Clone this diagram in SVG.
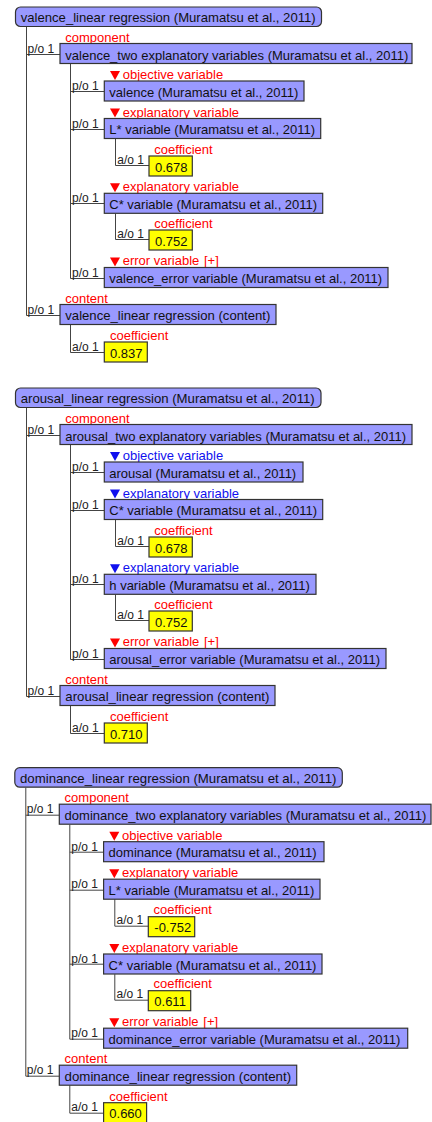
<svg xmlns="http://www.w3.org/2000/svg" width="432" height="1122" viewBox="0 0 432 1122">
<style>
.bg{fill:#ffffff}
.box{fill:#9999ff;stroke:#333333;stroke-width:1.2}
.val{fill:#ffff00;stroke:#333333;stroke-width:1.2}
.t{font-family:"Liberation Sans",Arial,sans-serif;font-size:13px;fill:#111111}
.lr{font-family:"Liberation Sans",Arial,sans-serif;font-size:13px;fill:#ff0000}
.lb{font-family:"Liberation Sans",Arial,sans-serif;font-size:13px;fill:#1010ee}
.card{font-family:"Liberation Sans",Arial,sans-serif;font-size:12px;fill:#222222}
.ln{stroke:#444444;stroke-width:1;fill:none}
.tr{fill:#ff0000}
.tb{fill:#1010ee}
</style>
<rect class="bg" x="0" y="0" width="432" height="1122"/>
<g id="connectors">
  <g id="conn-valence">
    <path class="ln" d="M26.5,27 V315.5 M26.5,54.5 H60 M26.5,315.5 H60 M70.5,64 V278.5 M70.5,91.5 H104.3 M70.5,129.5 H104.3 M70.5,203.5 H104.3 M70.5,278.5 H104.3 M115.5,138.5 V165.5 H149 M115.5,213.5 V239.5 H149 M70.5,324.5 V352.5 H104.3"/>
    <text class="card" x="27.5" y="52.5">p/o 1</text>
    <text class="card" x="27.5" y="313.5">p/o 1</text>
    <text class="card" x="72" y="90">p/o 1</text>
    <text class="card" x="72" y="127.5">p/o 1</text>
    <text class="card" x="72" y="202">p/o 1</text>
    <text class="card" x="72" y="276.5">p/o 1</text>
    <text class="card" x="117.3" y="163.5">a/o 1</text>
    <text class="card" x="117.3" y="237.5">a/o 1</text>
    <text class="card" x="72" y="350.5">a/o 1</text>
  </g>
  <g id="conn-arousal" transform="translate(0,381)">
    <path class="ln" d="M26.5,27 V315.5 M26.5,54.5 H60 M26.5,315.5 H60 M70.5,64 V278.5 M70.5,91.5 H104.3 M70.5,129.5 H104.3 M70.5,203.5 H104.3 M70.5,278.5 H104.3 M115.5,138.5 V165.5 H149 M115.5,213.5 V239.5 H149 M70.5,324.5 V352.5 H104.3"/>
    <text class="card" x="27.5" y="52.5">p/o 1</text>
    <text class="card" x="27.5" y="313.5">p/o 1</text>
    <text class="card" x="72" y="90">p/o 1</text>
    <text class="card" x="72" y="127.5">p/o 1</text>
    <text class="card" x="72" y="202">p/o 1</text>
    <text class="card" x="72" y="276.5">p/o 1</text>
    <text class="card" x="117.3" y="163.5">a/o 1</text>
    <text class="card" x="117.3" y="237.5">a/o 1</text>
    <text class="card" x="72" y="350.5">a/o 1</text>
  </g>
  <g id="conn-dominance" transform="translate(-0.7,760.7)">
    <path class="ln" d="M26.5,27 V315.5 M26.5,54.5 H60 M26.5,315.5 H60 M70.5,64 V278.5 M70.5,91.5 H104.3 M70.5,129.5 H104.3 M70.5,203.5 H104.3 M70.5,278.5 H104.3 M115.5,138.5 V165.5 H149 M115.5,213.5 V239.5 H149 M70.5,324.5 V352.5 H104.3"/>
    <text class="card" x="27.5" y="52.5">p/o 1</text>
    <text class="card" x="27.5" y="313.5">p/o 1</text>
    <text class="card" x="72" y="90">p/o 1</text>
    <text class="card" x="72" y="127.5">p/o 1</text>
    <text class="card" x="72" y="202">p/o 1</text>
    <text class="card" x="72" y="276.5">p/o 1</text>
    <text class="card" x="117.3" y="163.5">a/o 1</text>
    <text class="card" x="117.3" y="237.5">a/o 1</text>
    <text class="card" x="72" y="350.5">a/o 1</text>
  </g>
</g>

<g id="block-valence">
  <g id="v-root"><rect class="box" x="15.5" y="7" width="306" height="19.5" rx="5"/><text class="t" x="20.7" y="22" textLength="295" lengthAdjust="spacingAndGlyphs">valence_linear regression (Muramatsu et al., 2011)</text></g>
  <g id="v-component"><text class="lr" x="65.3" y="41.5">component</text><rect class="box" x="60" y="43.5" width="352" height="20"/><text class="t" x="65.3" y="59.8">valence_two explanatory variables (Muramatsu et al., 2011)</text></g>
  <g id="v-objective"><polygon class="tr" points="110,71 120,71 115,80"/><text class="lr" x="122.7" y="79.3">objective variable</text><rect class="box" x="104.3" y="81" width="199.7" height="20"/><text class="t" x="109.3" y="96.8">valence (Muramatsu et al., 2011)</text></g>
  <g id="v-lstar"><polygon class="tr" points="110,108.5 120,108.5 115,117.5"/><text class="lr" x="122.7" y="116.5">explanatory variable</text><rect class="box" x="104.3" y="118.5" width="216.4" height="20"/><text class="t" x="109.3" y="134.3">L* variable (Muramatsu et al., 2011)</text></g>
  <g id="v-coef1"><text class="lr" x="154.3" y="153.5">coefficient</text><rect class="val" x="149" y="156" width="43.3" height="20"/><text class="t" x="155" y="171.8">0.678</text></g>
  <g id="v-cstar"><polygon class="tr" points="110,183.3 120,183.3 115,192.3"/><text class="lr" x="122.7" y="191.2">explanatory variable</text><rect class="box" x="104.3" y="193.3" width="218.4" height="20"/><text class="t" x="109.3" y="209.1">C* variable (Muramatsu et al., 2011)</text></g>
  <g id="v-coef2"><text class="lr" x="154.3" y="227.5">coefficient</text><rect class="val" x="149" y="230" width="43.3" height="20"/><text class="t" x="155" y="245.8">0.752</text></g>
  <g id="v-error"><polygon class="tr" points="110,257.5 120,257.5 115,266.5"/><text class="lr" x="122.7" y="265.3">error variable<tspan x="204">[+]</tspan></text><rect class="box" x="104.3" y="267.5" width="283.7" height="20"/><text class="t" x="109.3" y="283.3">valence_error variable (Muramatsu et al., 2011)</text></g>
  <g id="v-content"><text class="lr" x="65.3" y="302.5">content</text><rect class="box" x="60" y="304.5" width="216" height="20"/><text class="t" x="65.3" y="320.3" textLength="205" lengthAdjust="spacingAndGlyphs">valence_linear regression (content)</text></g>
  <g id="v-coef3"><text class="lr" x="110" y="340">coefficient</text><rect class="val" x="104.3" y="342" width="43" height="20"/><text class="t" x="110" y="357.8">0.837</text></g>
</g>

<g id="block-arousal" transform="translate(0,381)">
  <g id="a-root"><rect class="box" x="15.5" y="7" width="305.5" height="19.5" rx="5"/><text class="t" x="20.7" y="22" textLength="294" lengthAdjust="spacingAndGlyphs">arousal_linear regression (Muramatsu et al., 2011)</text></g>
  <g id="a-component"><text class="lr" x="65.3" y="41.5">component</text><rect class="box" x="60" y="43.5" width="352" height="20"/><text class="t" x="65.3" y="59.8">arousal_two explanatory variables (Muramatsu et al., 2011)</text></g>
  <g id="a-objective"><polygon class="tb" points="110,71 120,71 115,80"/><text class="lb" x="122.7" y="79.3">objective variable</text><rect class="box" x="104.3" y="81" width="198.7" height="20"/><text class="t" x="109.3" y="96.8">arousal (Muramatsu et al., 2011)</text></g>
  <g id="a-cstar"><polygon class="tb" points="110,108.5 120,108.5 115,117.5"/><text class="lb" x="122.7" y="116.5">explanatory variable</text><rect class="box" x="104.3" y="118.5" width="218.4" height="20"/><text class="t" x="109.3" y="134.3">C* variable (Muramatsu et al., 2011)</text></g>
  <g id="a-coef1"><text class="lr" x="154.3" y="153.5">coefficient</text><rect class="val" x="149" y="156" width="43.3" height="20"/><text class="t" x="155" y="171.8">0.678</text></g>
  <g id="a-h"><polygon class="tb" points="110,183.3 120,183.3 115,192.3"/><text class="lb" x="122.7" y="191.2">explanatory variable</text><rect class="box" x="104.3" y="193.3" width="211.7" height="20"/><text class="t" x="109.3" y="209.1">h variable (Muramatsu et al., 2011)</text></g>
  <g id="a-coef2"><text class="lr" x="154.3" y="227.5">coefficient</text><rect class="val" x="149" y="230" width="43.3" height="20"/><text class="t" x="155" y="245.8">0.752</text></g>
  <g id="a-error"><polygon class="tr" points="110,257.5 120,257.5 115,266.5"/><text class="lr" x="122.7" y="265.3">error variable<tspan x="204">[+]</tspan></text><rect class="box" x="104.3" y="267.5" width="281.7" height="20"/><text class="t" x="109.3" y="283.3">arousal_error variable (Muramatsu et al., 2011)</text></g>
  <g id="a-content"><text class="lr" x="65.3" y="302.5">content</text><rect class="box" x="60" y="304.5" width="215" height="20"/><text class="t" x="65.3" y="320.3" textLength="204" lengthAdjust="spacingAndGlyphs">arousal_linear regression (content)</text></g>
  <g id="a-coef3"><text class="lr" x="110" y="340">coefficient</text><rect class="val" x="104.3" y="342" width="43" height="20"/><text class="t" x="110" y="357.8">0.710</text></g>
</g>

<g id="block-dominance" transform="translate(-0.7,760.7)">
  <g id="d-root"><rect class="box" x="15.5" y="7" width="327.5" height="19.5" rx="5"/><text class="t" x="20.7" y="22" textLength="316.5" lengthAdjust="spacingAndGlyphs">dominance_linear regression (Muramatsu et al., 2011)</text></g>
  <g id="d-component"><text class="lr" x="65.3" y="41.5">component</text><rect class="box" x="60" y="43.5" width="371.7" height="20"/><text class="t" x="65.3" y="59.8">dominance_two explanatory variables (Muramatsu et al., 2011)</text></g>
  <g id="d-objective"><polygon class="tr" points="110,71 120,71 115,80"/><text class="lr" x="122.7" y="79.3">objective variable</text><rect class="box" x="104.3" y="81" width="220.4" height="20"/><text class="t" x="109.3" y="96.8">dominance (Muramatsu et al., 2011)</text></g>
  <g id="d-lstar"><polygon class="tr" points="110,108.5 120,108.5 115,117.5"/><text class="lr" x="122.7" y="116.5">explanatory variable</text><rect class="box" x="104.3" y="118.5" width="216.4" height="20"/><text class="t" x="109.3" y="134.3">L* variable (Muramatsu et al., 2011)</text></g>
  <g id="d-coef1"><text class="lr" x="154.3" y="153.5">coefficient</text><rect class="val" x="149" y="156" width="46.4" height="20"/><text class="t" x="155" y="171.8">-0.752</text></g>
  <g id="d-cstar"><polygon class="tr" points="110,183.3 120,183.3 115,192.3"/><text class="lr" x="122.7" y="191.2">explanatory variable</text><rect class="box" x="104.3" y="193.3" width="218.4" height="20"/><text class="t" x="109.3" y="209.1">C* variable (Muramatsu et al., 2011)</text></g>
  <g id="d-coef2"><text class="lr" x="154.3" y="227.5">coefficient</text><rect class="val" x="149" y="230" width="42.4" height="20"/><text class="t" x="155" y="245.8">0.611</text></g>
  <g id="d-error"><polygon class="tr" points="110,257.5 120,257.5 115,266.5"/><text class="lr" x="122.7" y="265.3">error variable<tspan x="204">[+]</tspan></text><rect class="box" x="104.3" y="267.5" width="304.1" height="20"/><text class="t" x="109.3" y="283.3">dominance_error variable (Muramatsu et al., 2011)</text></g>
  <g id="d-content"><text class="lr" x="65.3" y="302.5">content</text><rect class="box" x="60" y="304.5" width="237.4" height="20"/><text class="t" x="65.3" y="320.3" textLength="226.5" lengthAdjust="spacingAndGlyphs">dominance_linear regression (content)</text></g>
  <g id="d-coef3"><text class="lr" x="110" y="340">coefficient</text><rect class="val" x="104.3" y="342" width="43" height="20"/><text class="t" x="110" y="357.8">0.660</text></g>
</g>
</svg>
